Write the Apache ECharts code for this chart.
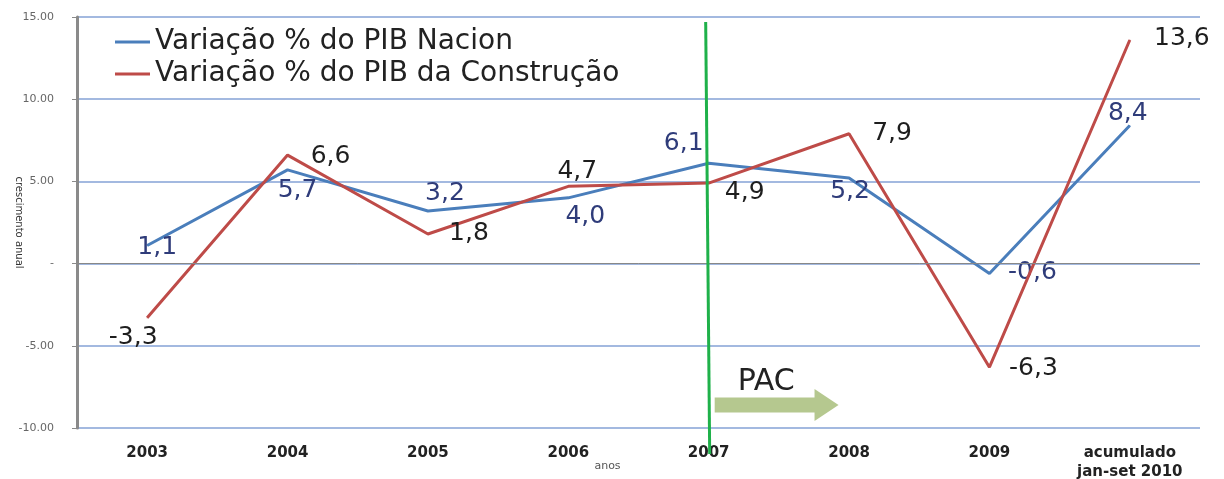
<!DOCTYPE html>
<html><head><meta charset="utf-8">
<script src="https://cdn.jsdelivr.net/npm/echarts@6/dist/echarts.min.js"></script>
<style>html,body{margin:0;padding:0;background:#fff}#c{width:1224px;height:479px}</style>
</head><body><div id="c"></div>
<script>
const categories = ['2003','2004','2005','2006','2007','2008','2009','acumulado\njan-set 2010'];
const pibNacional = [1.1, 5.7, 3.2, 4.0, 6.1, 5.2, -0.6, 8.4];
const pibConstrucao = [-3.3, 6.6, 1.8, 4.7, 4.9, 7.9, -6.3, 13.6];
const nameNac = 'Variação % do PIB Nacional';
const nameCon = 'Variação % do PIB da Construção';

// label offsets relative to each point (label centred on point, then shifted)
const blueLabelOffset = [[10,2],[10,21],[17,-17],[17,19],[-25,-20],[1,13],[43,-1],[-2,-12]];
const redLabelOffset  = [[-14,20],[43,1],[41,-1],[9,-15],[36,9],[43,0],[44,1],[52,-2]];
const labelFont = {fontFamily:'"DejaVu Sans"', fontSize:25};
const fmt = p => String(p.value).replace('.', ',').replace(/^(-?\d+)$/, '$1,0');

const legendCommon = {
  orient:'vertical', left:110, itemWidth:35, itemHeight:3, icon:'rect', itemGap:4,
  selectedMode:false
};

const chart = echarts.init(document.getElementById('c'), null, {renderer:'canvas'});
chart.setOption({
  animation:false,
  backgroundColor:'#ffffff',
  grid:{left:77, right:24, top:17, bottom:51, outerBoundsMode:'none', containLabel:false},
  legend:[
    Object.assign({}, legendCommon, {top:23, data:[nameNac],
      textStyle:{fontFamily:'"DejaVu Sans"', fontSize:28, color:'#222', width:372, overflow:'truncate', ellipsis:''}}),
    Object.assign({}, legendCommon, {top:55, data:[nameCon],
      textStyle:{fontFamily:'"DejaVu Sans"', fontSize:28, color:'#222', width:512, overflow:'truncate', ellipsis:''}})
  ],
  xAxis:{
    type:'category', data:categories, boundaryGap:true,
    name:'anos', nameLocation:'middle', nameGap:33, nameMoveOverlap:false,
    nameTextStyle:{fontFamily:'"DejaVu Sans"', fontSize:11, color:'#555', padding:[0,62,0,0]},
    axisLine:{show:false}, axisTick:{show:false},
    axisLabel:{fontFamily:'"DejaVu Sans"', fontWeight:'bold', fontSize:15, color:'#222', margin:16, lineHeight:19}
  },
  yAxis:{
    type:'value', min:-10, max:15, interval:5,
    name:'crescimento anual', nameLocation:'middle', nameGap:53, nameRotate:-90, nameMoveOverlap:false,
    nameTextStyle:{fontFamily:'"DejaVu Sans"', fontSize:10, color:'#333'},
    axisLine:{show:true, onZero:false, lineStyle:{color:'#8a8a8a', width:3}},
    axisTick:{show:true, length:5, lineStyle:{color:'#8a8a8a'}},
    axisLabel:{fontFamily:'"DejaVu Sans"', fontSize:11, color:'#666', margin:23,
      formatter:v => v === 0 ? '-' : v.toFixed(2)},
    splitLine:{show:true, lineStyle:{color:'#a3b9e0', width:2}}
  },
  series:[
    {
      name:nameNac, type:'line', data:pibNacional,
      symbol:'circle', symbolSize:1, showSymbol:true,
      lineStyle:{color:'#4a7ebb', width:3}, itemStyle:{color:'#4a7ebb'},
      label:{show:true, position:'inside', color:'#2f3c7a', ...labelFont, formatter:fmt},
      labelLayout:p => ({dx:blueLabelOffset[p.dataIndex][0], dy:blueLabelOffset[p.dataIndex][1], hideOverlap:false}),
      z:3
    },
    {
      name:nameCon, type:'line', data:pibConstrucao,
      symbol:'circle', symbolSize:1, showSymbol:true,
      lineStyle:{color:'#be4b48', width:3}, itemStyle:{color:'#be4b48'},
      label:{show:true, position:'inside', color:'#1e1e1e', ...labelFont, formatter:fmt},
      labelLayout:p => ({dx:redLabelOffset[p.dataIndex][0], dy:redLabelOffset[p.dataIndex][1], hideOverlap:false}),
      markLine:{
        silent:true, symbol:'none', label:{show:false},
        lineStyle:{color:'#888', width:1, type:'solid'},
        data:[{yAxis:0}]
      },
      z:4
    }
  ]
});

// annotations placed from data via the chart's scales
const x2007 = chart.convertToPixel({xAxisIndex:0}, '2007');
const x2008 = chart.convertToPixel({xAxisIndex:0}, '2008');
const yTop = chart.convertToPixel({yAxisIndex:0}, 15);
const yBot = chart.convertToPixel({yAxisIndex:0}, -10);
const yArrow = chart.convertToPixel({yAxisIndex:0}, -8.6);
const ax0 = x2007 + 6, ax1 = x2007 + (x2008 - x2007) * 0.925, head = 24;
chart.setOption({
  graphic:[
    {type:'line', z:100, zlevel:1, shape:{x1:x2007-3, y1:yTop+5, x2:x2007+1, y2:yBot+26},
      style:{stroke:'#1fb14a', lineWidth:3}},
    {type:'polygon', z:100, shape:{points:[
      [ax0, yArrow-7.5],[ax1-head, yArrow-7.5],[ax1-head, yArrow-16],[ax1, yArrow],
      [ax1-head, yArrow+16],[ax1-head, yArrow+7.5],[ax0, yArrow+7.5]]},
      style:{fill:'#b5c88f'}},
    {type:'text', z:100, style:{text:'PAC', x:x2007+29, y:yArrow-8, textVerticalAlign:'bottom',
      font:'30px "DejaVu Sans"', fill:'#222'}}
  ]
});
</script></body></html>
